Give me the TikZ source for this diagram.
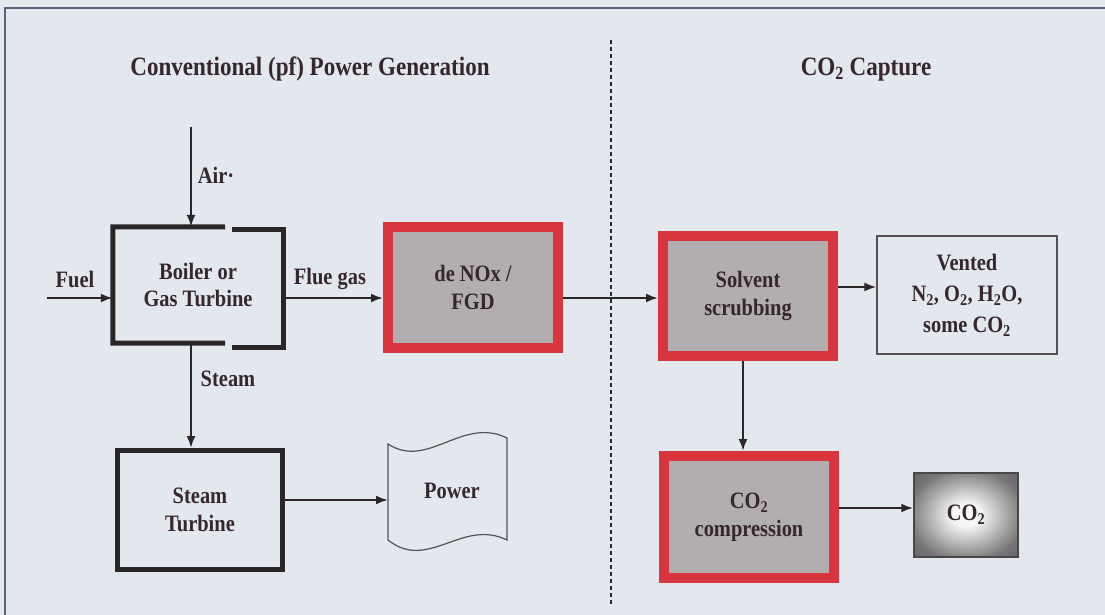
\documentclass[tikz,border=0pt]{standalone}
\usepackage{fontspec}
\setmainfont{Liberation Serif}[FakeStretch=0.87]
\usetikzlibrary{arrows.meta,calc}
\definecolor{bg}{HTML}{E3E7EE}
\definecolor{txt}{HTML}{36262D}
\definecolor{redb}{HTML}{D8353F}
\definecolor{grayin}{HTML}{B2AEB0}
\definecolor{frame}{HTML}{55627A}
\definecolor{dk}{HTML}{2A2628}
\definecolor{co2dark}{HTML}{4F474D}
\pgfdeclareradialshading{cotwo}{\pgfpoint{0bp}{0bp}}{color(0bp)=(white!96!gray); color(7bp)=(white!92!gray); color(28bp)=(gray!80!co2dark); color(50bp)=(co2dark)}
\tikzset{
  lbl/.style={text=txt, font=\fontsize{23.5}{27.5}\selectfont\bfseries, align=center, inner sep=0pt},
  ttl/.style={text=txt, font=\fontsize{26.5}{30}\selectfont\bfseries, inner sep=0pt},
  arr/.style={draw=dk, line width=2.2pt, -{Latex[length=12pt,width=9pt]}},
  redbox/.style={lbl, draw=redb, line width=10pt, fill=grayin, minimum width=170pt, minimum height=121pt},
  thickbox/.style={lbl, draw=dk, line width=5pt, minimum width=165pt, minimum height=119pt},
  thinbox/.style={lbl, draw=dk!80, line width=1.3pt, minimum width=180pt, minimum height=118pt, font=\fontsize{23.5}{31}\selectfont\bfseries},
}
\begin{document}
\begin{tikzpicture}[x=1pt,y=-1pt]
\fill[bg] (0,0) rectangle (1105,615);
\useasboundingbox (0,0) rectangle (1105,615);
\draw[frame, line width=2pt] (5,615) -- (5,8) -- (1105,8);
\draw[dk, line width=2.2pt, dash pattern=on 4pt off 3pt] (611,40) -- (611,605);

\node[ttl] (t1) at (310,69) {Conventional (pf) Power Generation};
\node[ttl] (t2) at (866,70) {CO\textsubscript{2} Capture};

% boiler
\node[lbl, minimum width=170pt, minimum height=116pt] (boiler) at (198,285) {Boiler or\\Gas Turbine};
\draw[dk, line width=5pt] (225,227) -- (boiler.north west) -- (boiler.south west) -- (225,343);
\draw[dk, line width=5pt] (232,229) -- (283,229) -- (283,347) -- (232,347);

\node[redbox] (denox) at (473,287.5) {de NOx /\\FGD};
\node[redbox, minimum height=120pt] (solvent) at (748,296) {Solvent\\scrubbing};
\node[redbox, minimum height=122pt] (comp) at (749,517) {CO\textsubscript{2}\\compression};
\node[thinbox] (vented) at (967,295) {Vented\\N\textsubscript{2}, O\textsubscript{2}, H\textsubscript{2}O,\\some CO\textsubscript{2}};
\node[lbl, draw=dk!85, line width=1.5pt, minimum width=104pt, minimum height=84pt, shading=cotwo] (co2) at (966,515) {CO\textsubscript{2}};
\node[thickbox] (st) at (200,510) {Steam\\Turbine};

% power tape
\draw[dk!80, line width=1.2pt, fill=bg] (388,444) .. controls (428,470) and (462,416) .. (507,438) -- (507,540)
  .. controls (462,518) and (428,572) .. (388,540) -- cycle;
\node[lbl] (power) at (452,491) {Power};
\coordinate (powl) at (388,500);

% inputs
\coordinate (air) at (191,127);
\coordinate (fuel) at (47,298);
\draw[arr] (air) -- (air |- boiler.north);
\draw[arr] (fuel) -- (fuel -| boiler.west);
\draw[arr] (boiler.east |- fuel) -- (fuel -| denox.west);
\draw[arr] (denox.east |- fuel) -- (fuel -| solvent.west);
\draw[arr] ([yshift=9pt]solvent.east) -- ([yshift=9pt]solvent.east -| vented.west);
\draw[arr] ([xshift=-5pt]solvent.south) -- ([xshift=-5pt]solvent.south |- comp.north);
\draw[arr] ([yshift=9pt]comp.east) -- ([yshift=9pt]comp.east -| co2.west);
\draw[arr] ([xshift=-7pt]boiler.south) -- ([xshift=-7pt]boiler.south |- st.north);
\draw[arr] (st.east |- powl) -- (powl);

\node[lbl] (lair) at (216,175) {Air·};
\node[lbl] (lfuel) at (75,279) {Fuel};
\node[lbl] (lflue) at (330,279) {Flue gas};
\node[lbl] (lsteam) at (228,379) {Steam};
\end{tikzpicture}
\end{document}
